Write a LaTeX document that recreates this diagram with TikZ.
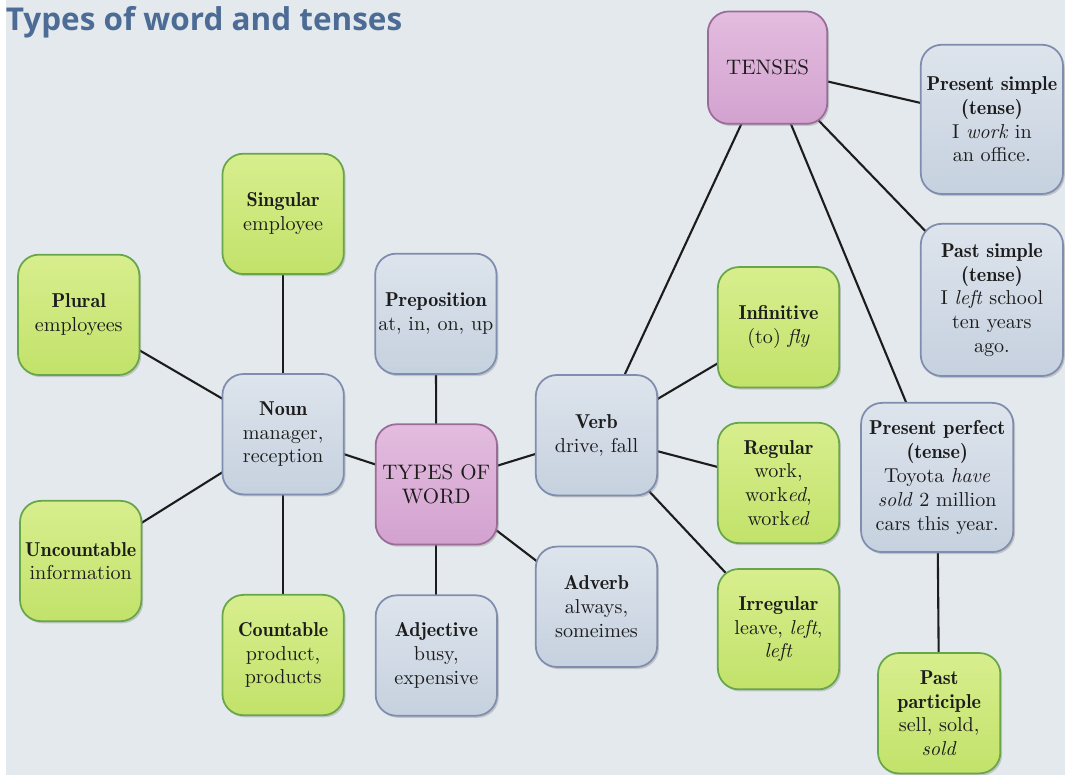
\documentclass[tikz,border=0pt]{standalone}
\usepackage{fontspec}
\setmainfont{lmroman10}[Extension=.otf, UprightFont=*-regular,
  ItalicFont=*-italic, BoldFont=lmromandemi10-regular,
  BoldItalicFont=lmromandemi10-oblique]
\newfontfamily\headingfont{Open Sans}
\usetikzlibrary{shadows}

\definecolor{paper}{HTML}{E4E9ED}
\definecolor{titleblue}{HTML}{4C6C96}
\definecolor{inkdark}{HTML}{1C1C1C}
\definecolor{greentop}{HTML}{D8EE8E}
\definecolor{greenbottom}{HTML}{C2E26A}
\definecolor{greenline}{HTML}{68A64A}
\definecolor{bluetop}{HTML}{DDE4EC}
\definecolor{bluebottom}{HTML}{C6D1DF}
\definecolor{blueline}{HTML}{7F8DAE}
\definecolor{pinktop}{HTML}{E3BCDF}
\definecolor{pinkbottom}{HTML}{D3A2CF}
\definecolor{pinkline}{HTML}{9A6C98}

\pgfdeclarelayer{sheet}
\pgfdeclarelayer{links}
\pgfsetlayers{sheet,links,main}

\begin{document}
\begin{tikzpicture}[
    wordbox/.style={rounded corners=12pt, line width=1pt, align=center,
      minimum width=2.44cm, minimum height=2.42cm, inner sep=1pt,
      text=inkdark, font=\rmfamily\fontsize{11.5}{13.6}\selectfont,
      drop shadow={shadow xshift=1pt, shadow yshift=-1.2pt, opacity=0.35}},
    greenbox/.style={wordbox, draw=greenline, top color=greentop,
      bottom color=greenbottom},
    bluebox/.style={wordbox, draw=blueline, top color=bluetop,
      bottom color=bluebottom},
    pinkbox/.style={wordbox, draw=pinkline, top color=pinktop,
      bottom color=pinkbottom, font=\rmfamily\fontsize{12}{14}\selectfont},
    link/.style={line width=1.2pt, draw=inkdark}
  ]
  % Page
  \begin{pgfonlayer}{sheet}
    \fill [paper] (0, 0) rectangle (21.3, -15.58);
  \end{pgfonlayer}
  \node (title) [anchor=base west, text=titleblue,
    font=\headingfont\bfseries\fontsize{18}{20}\selectfont]
    at (-0.12, -0.62) {Types of word and tenses};

  % Types of word
  \node (tow) [pinkbox] at (8.66, -9.74) {TYPES OF\\WORD};
  \node (prep) [bluebox] at (8.65, -6.31) {\textbf{Preposition}\\at, in, on, up};
  \node (adj) [bluebox] at (8.66, -13.18) {\textbf{Adjective}\\busy,\\expensive};
  \node (adverb) [bluebox] at (11.88, -12.20) {\textbf{Adverb}\\always,\\someimes};

  % Noun
  \node (noun) [bluebox] at (5.58, -8.73) {\textbf{Noun}\\manager,\\reception};
  \node (singular) [greenbox] at (5.58, -4.30) {\textbf{Singular}\\employee};
  \node (plural) [greenbox] at (1.47, -6.33) {\textbf{Plural}\\employees};
  \node (uncount) [greenbox] at (1.51, -11.28) {\textbf{Uncountable}\\information};
  \node (count) [greenbox] at (5.58, -13.17) {\textbf{Countable}\\product,\\products};

  % Verb
  \node (verb) [bluebox] at (11.88, -8.75) {\textbf{Verb}\\drive, fall};
  \node (infinitive) [greenbox] at (15.54, -6.58) {\textbf{Infinitive}\\(to) \textit{fly}};
  \node (regular) [greenbox] at (15.54, -9.71)
    {\textbf{Regular}\\work,\\work\textit{ed},\\work\textit{ed}};
  \node (irregular) [greenbox] at (15.54, -12.65)
    {\textbf{Irregular}\\leave, \textit{left},\\\textit{left}};

  % Tenses
  \node (tenses) [pinkbox, minimum width=2.4cm, minimum height=2.26cm]
    at (15.32, -1.36) {TENSES};
  \node (presimple) [bluebox, minimum width=2.86cm, minimum height=3cm]
    at (19.83, -2.40)
    {\textbf{Present simple}\\\textbf{(tense)}\\I \textit{work} in\\an office.};
  \node (pastsimple) [bluebox, minimum width=2.86cm, minimum height=3.06cm]
    at (19.83, -6.03)
    {\textbf{Past simple}\\\textbf{(tense)}\\I \textit{left} school\\ten years\\ago.};
  \node (preperfect) [bluebox, minimum width=3.06cm, minimum height=3cm]
    at (18.73, -9.60)
    {\textbf{Present perfect}\\\textbf{(tense)}\\Toyota \textit{have}\\\textit{sold} 2 million\\cars this year.};
  \node (pastpart) [greenbox, minimum width=2.46cm] at (18.77, -14.34)
    {\textbf{Past}\\\textbf{participle}\\sell, sold,\\\textit{sold}};

  % Edges
  \begin{pgfonlayer}{links}
    \foreach \a/\b in {tow/prep, tow/adj, tow/adverb, tow/noun, tow/verb,
                       noun/singular, noun/plural, noun/uncount, noun/count,
                       verb/infinitive, verb/regular, verb/irregular,
                       tenses/verb, tenses/presimple, tenses/pastsimple,
                       tenses/preperfect, preperfect/pastpart}
      \draw [link] (\a.center) -- (\b.center);
  \end{pgfonlayer}
\end{tikzpicture}
\end{document}
